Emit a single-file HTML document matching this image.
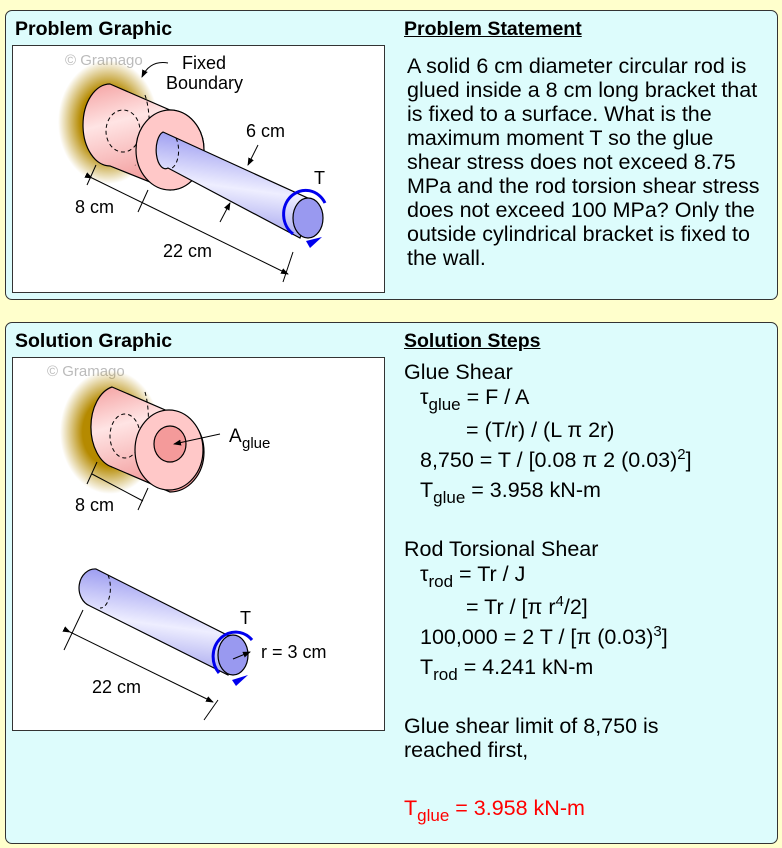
<!DOCTYPE html>
<html><head><meta charset="utf-8"><style>
body{margin:0;width:782px;height:848px;background:#ffffcc;font-family:"Liberation Sans",Arial,sans-serif;position:relative;overflow:hidden}
.panel{position:absolute;left:5px;width:771px;background:#ddfcfc;border:1px solid #333;border-radius:7px}
.h{position:absolute;font-weight:bold;font-size:19.5px;color:#000}
.u{text-decoration:underline}
.box{position:absolute;left:12px;width:371px;background:#fff;border:1px solid #333}
.t{position:absolute;left:407px;font-size:21.5px;line-height:24px;color:#000;white-space:nowrap}
sub{font-size:17px;vertical-align:-6px;line-height:0}
sup{font-size:15px;vertical-align:8px;line-height:0}
</style></head><body>
<div class="panel" style="top:10px;height:288px"></div>
<div class="panel" style="top:322px;height:520px"></div>
<div class="h" style="left:15px;top:18px">Problem Graphic</div>
<div class="h u" style="left:404px;top:18px">Problem Statement</div>
<div class="h" style="left:15px;top:330px">Solution Graphic</div>
<div class="h u" style="left:404px;top:330px">Solution Steps</div>
<div class="box" style="top:45px;height:246px"></div>
<div class="box" style="top:357px;height:372px"></div>
<div class="t" style="top:54px">A solid 6 cm diameter circular rod is<br>glued inside a 8 cm long bracket that<br>is fixed to a surface. What is the<br>maximum moment T so the glue<br>shear stress does not exceed 8.75<br>MPa and the rod torsion shear stress<br>does not exceed 100 MPa? Only the<br>outside cylindrical bracket is fixed to<br>the wall.</div>
<div class="t" style="left:404px;top:360px">Glue Shear</div>
<div class="t" style="left:420px;top:385px">τ<sub>glue</sub> = F / A</div>
<div class="t" style="left:466px;top:418px">= (T/r) / (L π 2r)</div>
<div class="t" style="left:420px;top:448px">8,750 = T / [0.08 π 2 (0.03)<sup>2</sup>]</div>
<div class="t" style="left:420px;top:478px">T<sub>glue</sub> = 3.958 kN-m</div>
<div class="t" style="left:404px;top:537px">Rod Torsional Shear</div>
<div class="t" style="left:420px;top:562px">τ<sub>rod</sub> = Tr / J</div>
<div class="t" style="left:466px;top:595px">= Tr / [π r<sup>4</sup>/2]</div>
<div class="t" style="left:420px;top:625px">100,000 = 2 T / [π (0.03)<sup>3</sup>]</div>
<div class="t" style="left:420px;top:655px">T<sub>rod</sub> = 4.241 kN-m</div>
<div class="t" style="left:404px;top:714px">Glue shear limit of 8,750 is<br>reached first,</div>
<div class="t" style="left:404px;top:796px;color:#ff0000">T<sub>glue</sub> = 3.958 kN-m</div>

<svg width="782" height="848" style="position:absolute;left:0;top:0" font-family="Liberation Sans,Arial,sans-serif">
<defs>
<radialGradient id="glow"><stop offset="0.55" stop-color="#b58a00"/><stop offset="1" stop-color="#b58a00" stop-opacity="0"/></radialGradient>
<linearGradient id="pink" x1="0" y1="0" x2="0.3" y2="1"><stop offset="0" stop-color="#f4a0a0"/><stop offset="0.4" stop-color="#ffe4e4"/><stop offset="1" stop-color="#f29a9a"/></linearGradient>
<linearGradient id="blue" x1="0.2" y1="0" x2="0" y2="1"><stop offset="0" stop-color="#9a9af0"/><stop offset="0.45" stop-color="#eeeeff"/><stop offset="1" stop-color="#8a8ae8"/></linearGradient>
<marker id="a" markerWidth="8" markerHeight="8" refX="7" refY="4" orient="auto"><path d="M0,1 L8,4 L0,7z" fill="#000"/></marker>
</defs>
<!-- top graphic -->
<text x="65" y="65" font-size="15" fill="#bbb">© Gramago</text>
<ellipse cx="108" cy="122" rx="50" ry="62" fill="url(#glow)"/>
<path d="M110,84 L170,110 A34,40 0 0 1 170,190 L110,166 A27,41 0 0 1 110,84z" fill="url(#pink)" stroke="#000" stroke-width="1.2"/>
<ellipse cx="123" cy="131" rx="17" ry="21" fill="none" stroke="#000" stroke-dasharray="4,3"/>
<path d="M145,95 A12,40 0 0 1 135,165" fill="none" stroke="#000" stroke-dasharray="4,3"/>
<ellipse cx="170" cy="150" rx="34" ry="40" fill="#ffc8c8" stroke="#000" stroke-width="1.2"/>
<path d="M163,132 L312,200 L300,238 L168,168 A9,18 0 0 1 163,132z" fill="url(#blue)" stroke="#000" stroke-width="1.2"/>
<path d="M176,138 A9,18 0 0 1 172,168" fill="none" stroke="#000" stroke-dasharray="4,3"/>
<ellipse cx="308" cy="218" rx="15" ry="20" fill="#9999f0" stroke="#000" stroke-width="1.2"/>
<path d="M293,234 A22,24 0 1 1 325,203" fill="none" stroke="#0000ee" stroke-width="3"/>
<path d="M306,241 L322,237 L310,248z" fill="#0000ee"/>
<text x="182" y="69" font-size="18">Fixed</text><text x="166" y="89" font-size="18">Boundary</text>
<path d="M168,63 Q150,60 142,77" fill="none" stroke="#000" marker-end="url(#a)"/>
<text x="246" y="137" font-size="18">6 cm</text>
<path d="M258,145 L248,165" stroke="#000" marker-end="url(#a)"/>
<path d="M220,222 L230,203" stroke="#000" marker-end="url(#a)"/>
<text x="314" y="184" font-size="18">T</text>
<text x="75" y="213" font-size="18">8 cm</text>
<text x="163" y="257" font-size="18">22 cm</text>
<path d="M96,165 L87,185 M148,190 L138,212 M293,252 L283,282" stroke="#000"/>
<path d="M92,178 L143,203" stroke="#000" marker-start="url(#a)"/>
<path d="M143,203 L288,274" stroke="#000" marker-end="url(#a)"/>
<!-- solution graphic -->
<text x="47" y="376" font-size="15" fill="#bbb">© Gramago</text>
<ellipse cx="110" cy="432" rx="50" ry="62" fill="url(#glow)"/>
<path d="M112,387 L170,412 A34,40 0 0 1 170,492 L112,467 A27,41 0 0 1 112,387z" fill="url(#pink)" stroke="#000" stroke-width="1.2"/>
<ellipse cx="125" cy="436" rx="15" ry="22" fill="none" stroke="#000" stroke-dasharray="4,3"/>
<path d="M145,392 A12,40 0 0 1 136,460" fill="none" stroke="#000" stroke-dasharray="4,3"/>
<ellipse cx="169" cy="450" rx="34" ry="40" fill="#ffc8c8" stroke="#000" stroke-width="1.2"/>
<ellipse cx="170" cy="444" rx="16" ry="18" fill="#f49a9a" stroke="#000" stroke-width="1.2"/>
<path d="M220,434 L174,444" stroke="#000" marker-end="url(#a)"/>
<text x="229" y="442" font-size="19">A</text><text x="242" y="448" font-size="15">glue</text>
<text x="75" y="511" font-size="18">8 cm</text>
<path d="M97,462 L87,484 M148,488 L138,510 M92,474 L143,501" stroke="#000"/>
<path d="M96,569 L235,639 L228,675 L90,606 A16,19 0 0 1 96,569z" fill="url(#blue)" stroke="#000" stroke-width="1.2"/>
<path d="M108,575 A10,20 0 0 1 100,608" fill="none" stroke="#000" stroke-dasharray="4,3"/>
<ellipse cx="233" cy="655" rx="15" ry="20" fill="#9999f0" stroke="#000" stroke-width="1.2"/>
<path d="M219,673 A22,24 0 1 1 252,640" fill="none" stroke="#0000ee" stroke-width="3"/>
<path d="M232,680 L248,675 L236,686z" fill="#0000ee"/>
<path d="M233,659 L250,652" stroke="#000" marker-end="url(#a)"/>
<text x="240" y="624" font-size="18">T</text>
<text x="261" y="658" font-size="18">r = 3 cm</text>
<text x="92" y="693" font-size="18">22 cm</text>
<path d="M83,610 L64,650 M218,700 L204,720" stroke="#000"/>
<path d="M70,632 L213,702" stroke="#000" marker-start="url(#a)" marker-end="url(#a)"/>
</svg>
</body></html>
